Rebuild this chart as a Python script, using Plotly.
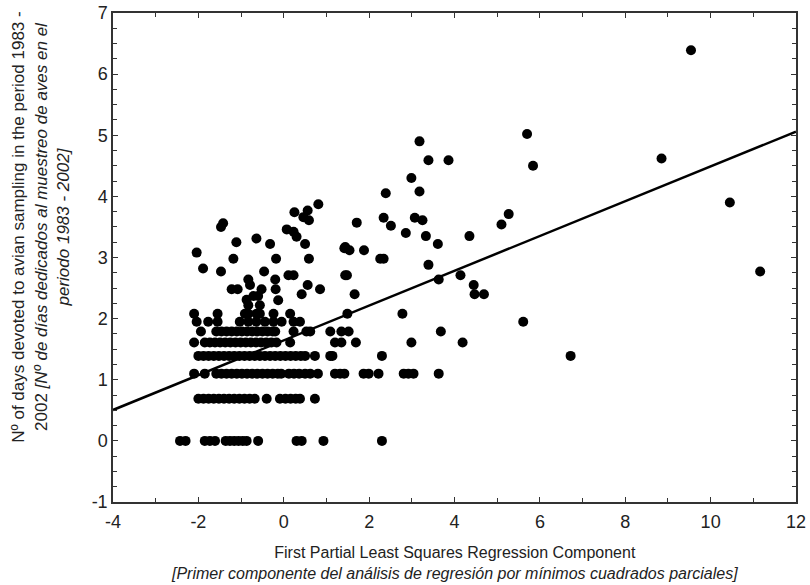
import plotly.graph_objects as go

# Dense horizontal rows (y level -> x values)
row_y = [0.0, 0.69, 1.10, 1.39, 1.61, 1.79, 1.95, 2.08]
row_x = [
    [-2.43, -2.30, -1.85, -1.73, -1.61, -1.36, -1.26, -1.16, -1.06, -0.96, -0.87, -0.60, 0.30, 0.42, 0.93, 2.30],
    [-2.00, -1.88, -1.76, -1.64, -1.52, -1.40, -1.28, -1.16, -1.04, -0.92, -0.80, -0.68, -0.40,
     -0.09, 0.04, 0.16, 0.28, 0.38, 0.73],
    [-2.10, -1.85, -1.58, -1.46, -1.34, -1.22, -1.10, -0.98, -0.86, -0.74, -0.62, -0.50, -0.38, -0.26,
     -0.14, -0.06, 0.12, 0.24, 0.36, 0.50, 0.62, 0.80, 1.20, 1.32, 1.42, 1.87, 1.99, 2.22, 2.81,
     2.92, 3.04, 3.63],
    [-2.00, -1.88, -1.76, -1.64, -1.52, -1.40, -1.28, -1.16, -1.04, -0.92, -0.80, -0.68, -0.56, -0.44,
     -0.32, -0.20, -0.08, 0.04, 0.16, 0.28, 0.40, 0.50, 0.73, 1.09, 1.14, 2.30, 6.72],
    [-2.10, -1.85, -1.73, -1.61, -1.49, -1.37, -1.25, -1.13, -1.01, -0.89, -0.77, -0.65, -0.53, -0.41,
     -0.29, -0.17, 0.15, 1.20, 1.35, 1.69, 2.99, 4.19],
    [-1.94, -1.58, -1.46, -1.34, -1.22, -1.10, -0.98, -0.86, -0.74, -0.62, -0.50, -0.38, -0.26, -0.20,
     0.23, 0.53, 0.62, 1.09, 1.35, 1.52, 3.68],
    [-2.04, -1.77, -1.55, -1.03, -0.83, -0.64, -0.44, -0.24, -0.05, 0.23, 0.38, 5.61],
    [-2.10, -1.55, -0.91, -0.83, -0.64, -0.56, -0.24, 0.15, 1.49, 2.78],
]

# Scattered points
scatter_x = [-2.04, -1.47, -1.42, -1.11, -0.64, -0.32, 0.07, 0.23, 0.30, 0.50, 0.25, 0.56, 0.46, 0.59,
             0.81, -1.18, -0.18, 0.59, -1.89, -1.47, -0.46, 0.11, 0.23, -0.83, -0.20, -1.22, -1.08,
             -0.79, -0.52, -0.19, 0.42, 0.56, 0.85, -0.87, -0.71, -0.60, -0.83, -0.56, -0.13,
             2.39, 2.34, 2.51, 3.07, 3.25, 1.71, 2.86, 1.44, 1.54, 1.88, 2.26, 2.34, 1.44, 1.48, 1.42,
             1.66, 5.70, 3.18, 3.39, 3.86, 5.84, 2.99, 3.18, 5.27, 5.10, 3.33, 4.35, 3.61, 3.39,
             4.14, 3.63, 4.45, 4.47, 4.69, 9.54, 8.85, 10.45, 11.16]
scatter_y = [3.08, 3.50, 3.56, 3.25, 3.31, 3.22, 3.46, 3.42, 3.34, 3.22, 3.74, 3.77, 3.66, 3.61,
             3.87, 2.98, 2.98, 2.98, 2.82, 2.77, 2.77, 2.71, 2.71, 2.64, 2.64, 2.48, 2.48,
             2.55, 2.48, 2.48, 2.40, 2.55, 2.48, 2.31, 2.37, 2.37, 2.22, 2.22, 2.30,
             4.05, 3.65, 3.52, 3.65, 3.61, 3.57, 3.40, 3.17, 3.12, 3.12, 2.98, 2.98, 2.71, 2.71, 3.15,
             2.40, 5.02, 4.90, 4.59, 4.59, 4.50, 4.30, 4.08, 3.71, 3.54, 3.35, 3.35, 3.22, 2.88,
             2.71, 2.64, 2.55, 2.40, 2.40, 6.39, 4.62, 3.90, 2.77]

# Regression line
reg_intercept = 1.644
reg_slope = 0.2846
x_range = [-4, 12]
y_range = [-1, 7]

x_tick_vals = [-4, -2, 0, 2, 4, 6, 8, 10, 12]
x_tick_text = ["-4", "-2", "0", "2", "4", "6", "8", "10", "12"]
y_tick_vals = [-1, 0, 1, 2, 3, 4, 5, 6, 7]
y_tick_text = ["-1", "0", "1", "2", "3", "4", "5", "6", "7"]

x_title = ("First Partial Least Squares Regression Component<br>"
           "<i>[Primer componente del análisis de regresión por mínimos cuadrados parciales]</i>")
y_title = ("Nº of days devoted to avian sampling in the period 1983 -<br>"
           "2002 <i>[Nº de días dedicados al muestreo de aves en el</i><br>"
           "<i>periodo 1983 - 2002]</i>")

all_x, all_y = [], []
for yv, xs in zip(row_y, row_x):
    all_x += xs
    all_y += [yv] * len(xs)
all_x += scatter_x
all_y += scatter_y

FONT = "Liberation Sans, Arial, sans-serif"

fig = go.Figure()
fig.add_trace(go.Scatter(x=all_x, y=all_y, mode="markers",
                         marker=dict(color="black", size=10, line=dict(width=0)),
                         showlegend=False, hoverinfo="skip"))
fig.add_trace(go.Scatter(x=x_range, y=[reg_intercept + reg_slope * v for v in x_range],
                         mode="lines", line=dict(color="black", width=2.5),
                         showlegend=False, hoverinfo="skip"))

axis_common = dict(showline=True, linecolor="#333", linewidth=1.5, mirror="ticks",
                   ticks="inside", ticklen=5, tickcolor="#333", showgrid=False, zeroline=False,
                   automargin=False, ticklabeloverflow="allow",
                   tickfont=dict(family=FONT, size=18, color="#222"))

fig.update_xaxes(range=x_range, tickvals=x_tick_vals, ticktext=x_tick_text,
                 ticklabelstandoff=3,
                 minor=dict(dtick=1, ticks="inside", ticklen=4, tickcolor="#333"),
                 **axis_common)
fig.update_yaxes(range=y_range, tickvals=y_tick_vals, ticktext=y_tick_text,
                 minor=dict(dtick=0.25, ticks="inside", ticklen=4, tickcolor="#333"),
                 **axis_common)

fig.add_annotation(text=x_title, xref="paper", yref="paper", x=0.5, y=-0.082,
                   xanchor="center", yanchor="top", showarrow=False, align="center",
                   font=dict(family=FONT, size=16, color="#222"))
fig.add_annotation(text=y_title, xref="paper", yref="paper", x=-0.106, y=0.562,
                   xanchor="center", yanchor="middle", showarrow=False, align="center",
                   textangle=-90, font=dict(family=FONT, size=17, color="#222"))

fig.update_layout(width=810, height=585, plot_bgcolor="white", paper_bgcolor="white",
                  margin=dict(l=113, r=14, t=13, b=83), font=dict(family=FONT),
                  hovermode=False)

# remove the default page margin so the 810x585 figure fills the window exactly
fig.write_html("out.html", config={"displayModeBar": False},
               post_script="document.body.style.margin='0px';")
